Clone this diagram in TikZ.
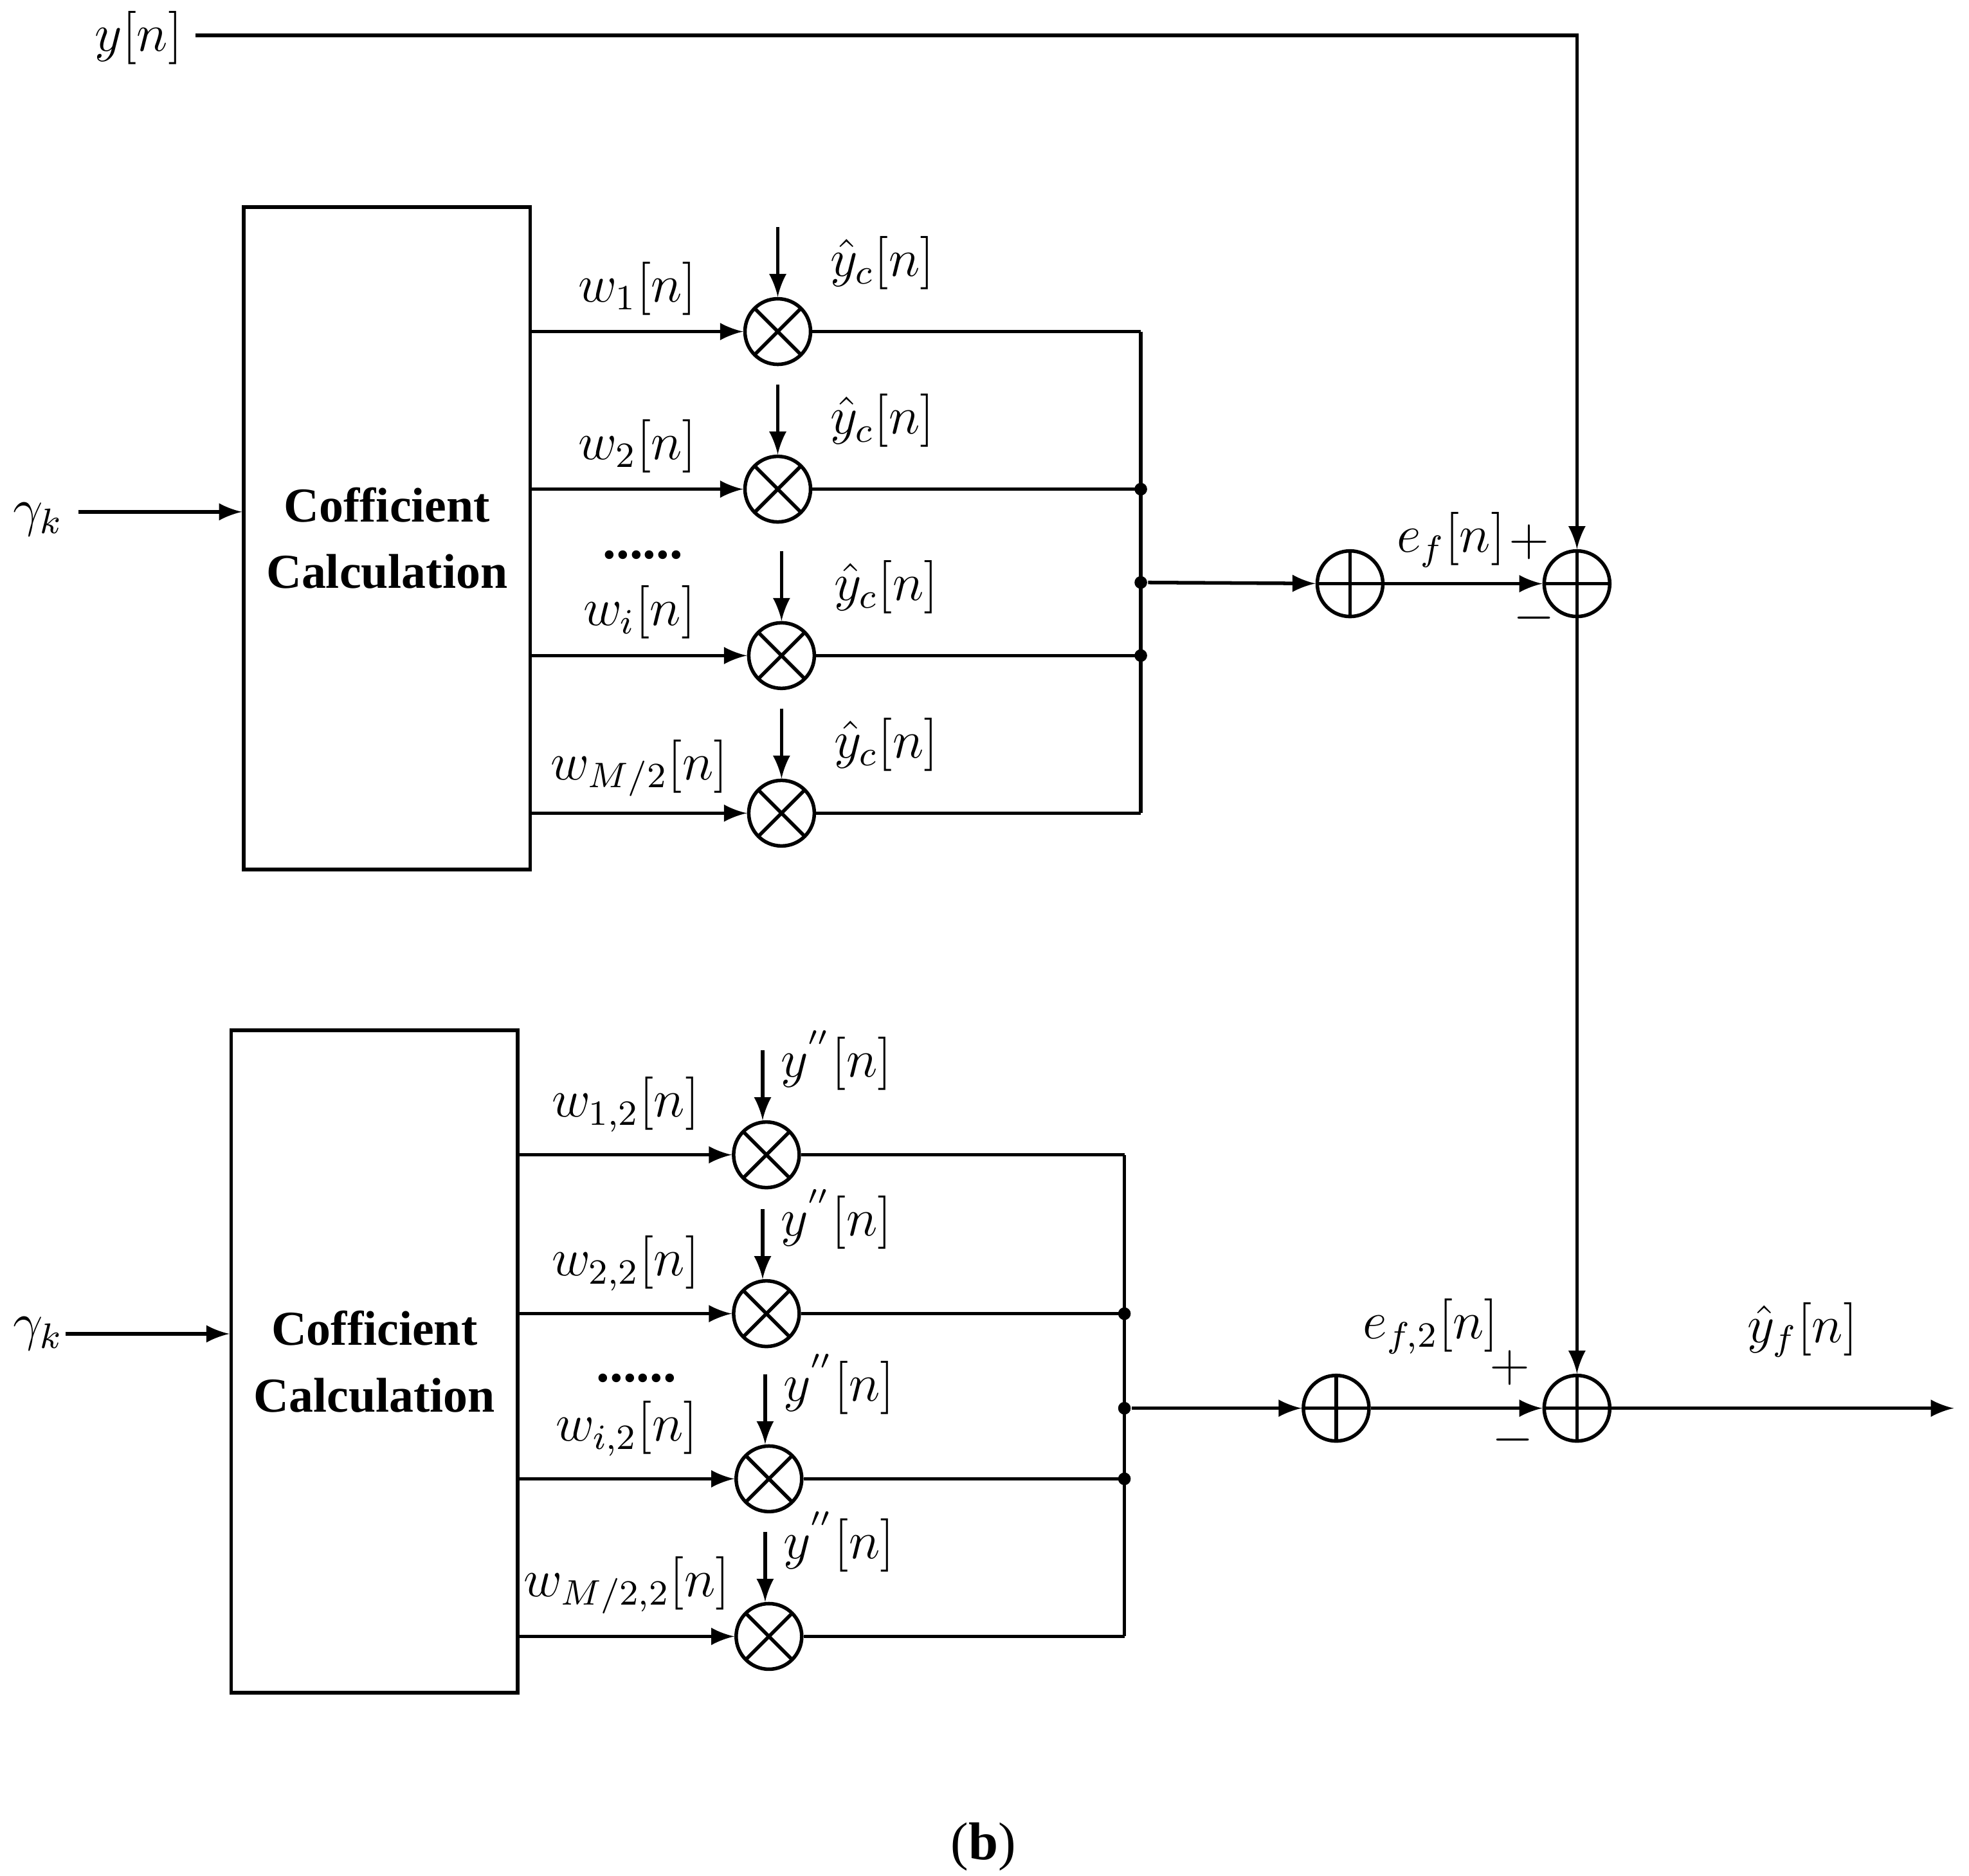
\documentclass[tikz,border=0pt]{standalone}
\usepackage{fontspec}
\setmainfont{Liberation Serif}
\usetikzlibrary{arrows,calc,positioning}
\begin{document}
\begin{tikzpicture}[x=0.01cm,y=-0.01cm,
	  every node/.style={align=center,draw=none,font=\fontsize{12}{14}\selectfont},
	  block/.style={draw,thick,minimum width=2.27cm,minimum height=5.25cm,inner sep=0pt,font=\bfseries\fontsize{11}{15}\selectfont},
	  mult/.style={draw,thick,circle,minimum size=0.52cm,inner sep=0pt,
	    path picture={\draw[thick] (path picture bounding box.north west)--(path picture bounding box.south east)
	      (path picture bounding box.north east)--(path picture bounding box.south west);}},
	  adder/.style={draw,thick,circle,minimum size=0.52cm,inner sep=0pt,
	    path picture={\draw[thick] (path picture bounding box.north)--(path picture bounding box.south)
	      (path picture bounding box.east)--(path picture bounding box.west);}},
	  dot/.style={circle,fill,inner sep=0pt,minimum size=0.1cm},
	  to/.style={-latex,thick,shorten >=0pt}]
	  \useasboundingbox (0,0) rectangle (1562,1488);

	  % upper branch
	  \node[block] (boxa) at (307,427) {Cofficient\\Calculation};
	  \node (gammaa) at (30,412) {$\gamma_k$};
	  \draw[to] (62,406) coordinate (ina) -- (ina -| boxa.west);
	  \foreach \y/\x/\lab/\n in {263/617/{w_1[n]}/1,388/617/{w_2[n]}/2,520/620/{w_i[n]}/3,645/620/{w_{M/2}[n]}/4}{
	    \node[mult] (ma\n) at (\x,\y) {};
	    \draw[to] (ma\n -| boxa.east) -- node[above,pos=0.5] {$\lab$} (ma\n);
	    \coordinate (ta\n) at ($(ma\n)+(0,-83)$);
	    \draw[to] (ta\n) -- (ma\n);
	    \node[right=0.1cm of ma\n.north east,yshift=0.35cm] {$\hat{y}_c[n]$};
	    \draw[thick] (ma\n) -- (905,\y);
	  }
	  \node at (510,440) {\textbf{......}};
	  \draw[thick] (905,263) -- (905,645);
	  \node[dot] at (905,388) {};
	  \node[dot] (ja) at (905,462) {};
	  \node[dot] at (905,520) {};
	  \node[adder] (sa) at (1071,463) {};
	  \node[adder] (sb) at (1251,463) {};
	  \draw[to] (ja) -- (sa);
	  \draw[to] (sa) -- node[above,xshift=-0.1cm] {$e_f[n]$} (sb);
	  \node at (1213,430) {$+$};
	  \node at (1217,490) {$-$};
	  \node (yn) at (110,30) {$y[n]$};
	  \coordinate (ystart) at (155,28);
	  \draw[to] (ystart) -- (1251,28) -- (sb);

	  % lower branch
	  \node[block] (boxb) at (297,1080) {Cofficient\\Calculation};
	  \node (gammab) at (30,1058) {$\gamma_k$};
	  \draw[to] (52,1058) coordinate (inb) -- (inb -| boxb.west);
	  \foreach \y/\x/\lab/\n in {916/608/{w_{1,2}[n]}/1,1042/608/{w_{2,2}[n]}/2,1173/610/{w_{i,2}[n]}/3,1298/610/{w_{M/2,2}[n]}/4}{
	    \node[mult] (mb\n) at (\x,\y) {};
	    \draw[to] (mb\n -| boxb.east) -- node[above,pos=0.5,yshift=0.05cm] {$\lab$} (mb\n);
	    \coordinate (tb\n) at ($(mb\n)+(-3,-83)$);
	    \draw[to] (tb\n) -- (tb\n |- mb\n.north);
	    \node[right=0.02cm of tb\n,yshift=-0.08cm] {$y^{''}[n]$};
	    \draw[thick] (mb\n) -- (892,\y);
	  }
	  \node at (505,1093) {\textbf{......}};
	  \draw[thick] (892,916) -- (892,1298);
	  \node[dot] at (892,1042) {};
	  \node[dot] (jb) at (892,1117) {};
	  \node[dot] at (892,1173) {};
	  \node[adder] (sc) at (1060,1117) {};
	  \node[adder] (sd) at (1251,1117) {};
	  \draw[to] (jb) -- (sc);
	  \draw[to] (sc) -- (sd);
	  \node at (1135,1052) {$e_{f,2}[n]$};
	  \node at (1198,1085) {$+$};
	  \node at (1200,1142) {$-$};
	  \draw[to] (sb) -- (sd);
	  \coordinate (out) at (1550,1117);
	  \draw[to] (sd) -- (out);
	  \node at (1430,1055) {$\hat{y}_f[n]$};
	  \node (cap) at (780,1465) {(\textbf{b})};
\end{tikzpicture}
\end{document}
